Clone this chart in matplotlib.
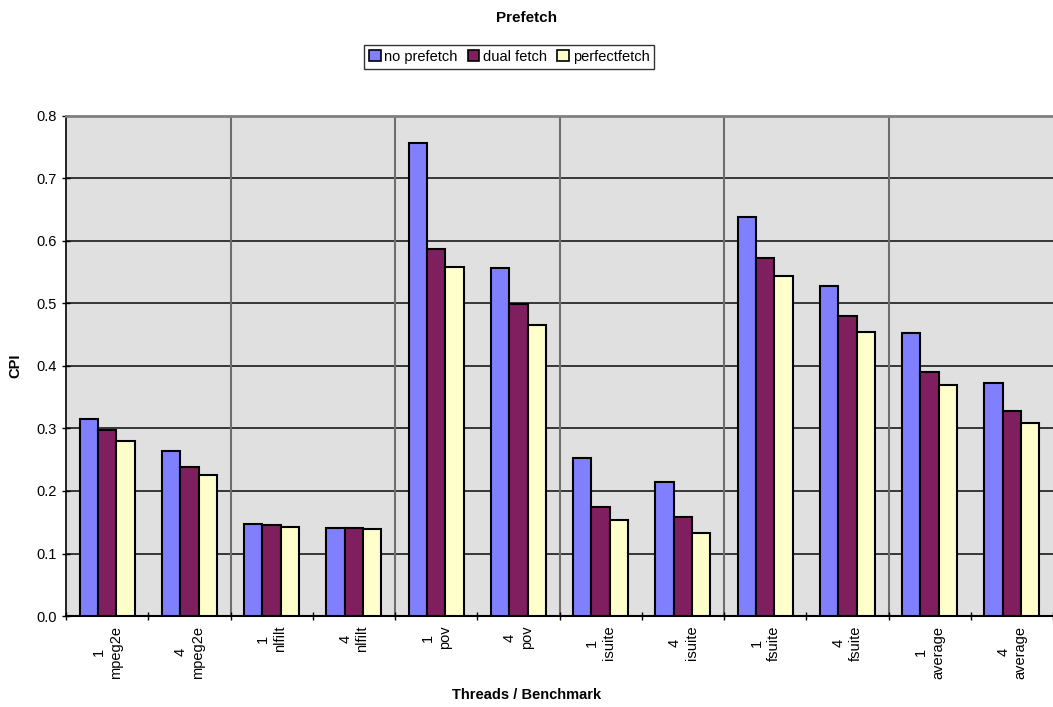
import numpy as np
import matplotlib
matplotlib.use('Agg')
import matplotlib.pyplot as plt

plt.rcParams['font.family'] = ['Liberation Sans', 'DejaVu Sans']

threads = ['1', '4', '1', '4', '1', '4', '1', '4', '1', '4', '1', '4']
benchmarks = ['mpeg2e', 'mpeg2e', 'nlfilt', 'nlfilt', 'pov', 'pov',
              'isuite', 'isuite', 'fsuite', 'fsuite', 'average', 'average']
no_prefetch = [0.315, 0.264, 0.147, 0.141, 0.757, 0.556, 0.253, 0.215, 0.638, 0.528, 0.453, 0.373]
dual_fetch = [0.297, 0.239, 0.146, 0.141, 0.587, 0.499, 0.174, 0.158, 0.572, 0.480, 0.390, 0.328]
perfect_fetch = [0.280, 0.225, 0.143, 0.139, 0.559, 0.466, 0.154, 0.132, 0.544, 0.455, 0.370, 0.309]

series = [('no prefetch', no_prefetch, '#8080FF'),
          ('dual fetch', dual_fetch, '#801F5F'),
          ('perfectfetch', perfect_fetch, '#FFFFCC')]

fs = 10.5
fig = plt.figure(figsize=(10.53, 7.07), dpi=100)
ax = fig.add_axes([0.0627, 0.1287, 0.9373, 0.7073])
ax.set_facecolor('#E0E0E0')

x = np.arange(len(benchmarks))
w = 0.223
for i, (name, vals, color) in enumerate(series):
    ax.bar(x + (i - 1) * w, vals, width=w, color=color, edgecolor='black',
           linewidth=1.5, label=name, zorder=3)

ax.set_xlim(-0.5, len(benchmarks) - 0.5)
ax.set_ylim(0, 0.8)
ax.set_yticks(np.arange(0, 0.81, 0.1))
ax.set_yticklabels(['%.1f' % v for v in np.arange(0, 0.81, 0.1)], fontsize=fs)

# horizontal grid
for v in np.arange(0.1, 0.81, 0.1):
    ax.axhline(v, color='#1A1A1A', linewidth=1.2, zorder=1)
# vertical grid every two categories
for b in np.arange(1.5, len(benchmarks) - 0.5, 2):
    ax.axvline(b, color='#6E6E6E', linewidth=1.5, zorder=1)

ax.set_xticks(x)
ax.set_xticklabels(['%s\n%s' % (t, b) for t, b in zip(threads, benchmarks)],
                   rotation=90, fontsize=fs, linespacing=1.3)
ax.set_xticks(np.arange(-0.5, len(benchmarks), 1), minor=True)
ax.tick_params(axis='x', which='major', length=0, pad=7)
ax.tick_params(axis='x', which='minor', length=6, direction='inout', width=1)
ax.tick_params(axis='y', length=6, direction='inout', width=1)

ax.spines['right'].set_visible(False)
ax.spines['top'].set_color('#808080')
ax.spines['top'].set_linewidth(2)
ax.spines['left'].set_linewidth(1.2)
ax.spines['bottom'].set_linewidth(1.5)

ax.set_ylabel('CPI', fontsize=fs, fontweight='bold', labelpad=10)
fig.text(0.5, 1 - 695 / 707, 'Threads / Benchmark', fontsize=fs, fontweight='bold',
         ha='center', va='center')
fig.text(0.5, 1 - 18 / 707, 'Prefetch', fontsize=fs + 0.5, fontweight='bold',
         ha='center', va='center')

leg = fig.legend(loc='center', bbox_to_anchor=(0.4835, 0.9195), ncol=3, fontsize=fs,
                 frameon=True, fancybox=False, handlelength=0.8, handleheight=0.8,
                 handletextpad=0.25, columnspacing=0.7, borderpad=0.35)
leg.get_frame().set_edgecolor('black')
leg.get_frame().set_linewidth(1)
for h in leg.legend_handles:
    h.set_linewidth(1.2)

fig.savefig('out.png', dpi=100)
